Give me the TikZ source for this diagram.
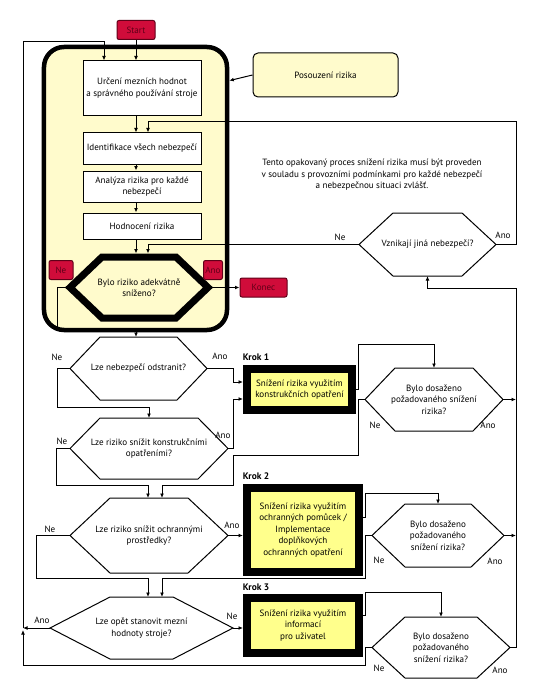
\documentclass[tikz,border=0pt]{standalone}
\usepackage{fontspec}
\setmainfont{PT Sans}
\usetikzlibrary{arrows.meta}

\definecolor{posfill}{RGB}{255,251,204}
\definecolor{krokfill}{RGB}{255,255,140}
\definecolor{stopred}{RGB}{208,12,58}
\definecolor{stoptext}{RGB}{96,0,24}

% sestiuhelnik kolem neviditelneho uzlu
\newcommand{\sestiuhel}[3][]{\draw[#1] (#2.west) -- ([xshift=#3bp]#2.north west) -- ([xshift=-#3bp]#2.north east) -- (#2.east) -- ([xshift=-#3bp]#2.south east) -- ([xshift=#3bp]#2.south west) -- cycle;}

\begin{document}
\begin{tikzpicture}[x=1bp,y=-1bp,line width=1bp,
    every node/.style={font=\fontsize{9.1}{11.5}\selectfont,align=center},
    sipka/.style={-{Latex[length=4.5bp,width=3.8bp]}},
    krabice/.style={draw,fill=white,minimum width=118bp,inner sep=1bp},
    cervena/.style={draw=stoptext,fill=stopred,rounded corners=2bp,text=stoptext,inner sep=0pt,minimum height=19bp},
    krok/.style={draw=black,line width=8bp,fill=krokfill,inner sep=0pt},
    otazka/.style={inner sep=0pt,outer sep=0pt},
    stitek/.style={inner sep=0pt},
    nadpis/.style={font=\fontsize{9.5}{10}\selectfont\bfseries}]
    \useasboundingbox (0,0) rectangle (539,700);
    % pomocne sloupce
    \coordinate (sloupA) at (148,0);
    \coordinate (sloupB) at (162,0);
    \coordinate (levy) at (23,42);
    \coordinate (pravy) at (516,122);
    % Posouzeni rizika
    \node[draw,line width=4.5bp,fill=posfill,rounded corners=20bp,minimum width=183bp,minimum height=283bp] (posouzeni) at (135.5,188.5) {};
    \node[draw,fill=posfill,rounded corners=5bp,minimum width=145bp,minimum height=44bp] (posbox) at (325.5,75) {Posouzení rizika};
    \draw[sipka] (posbox.west) -- (posouzeni.49);
    \node[cervena,minimum width=38bp] (start) at (136,30) {Start};
    \node[krabice,minimum height=54bp] (box1) at (142,88) {Určení mezních hodnot\\a správného používání stroje};
    \node[krabice,minimum height=31bp] (box2) at (142,148.5) {Identifikace všech nebezpečí};
    \node[krabice,minimum height=31bp] (box3) at (142,186.5) {Analýza rizika pro každé\\nebezpečí};
    \node[krabice,minimum height=26bp] (box4) at (142,226) {Hodnocení rizika};
    \node[otazka,minimum width=138bp,minimum height=61bp] (adeq) at (139,287.5) {Bylo riziko adekvátně\\sníženo?};
    \sestiuhel[line width=7bp,line join=miter]{adeq}{32}
    \node[cervena,minimum width=24bp] (neA) at (61,270) {Ne};
    \node[cervena,minimum width=19bp] (anoA) at (213,270) {Ano};
    \node[cervena,minimum width=47bp] (konec) at (263.5,287.5) {Konec};
    \draw[sipka] (start) -- (start |- box1.north);
    \draw[sipka] (box1.south -| start) -- (box2.north -| start);
    \draw[sipka] (box2.south -| start) -- (box3.north -| start);
    \draw[sipka] (box3.south -| start) -- (box4.north -| start);
    \draw[sipka,shorten >=3.5bp] (box4.south -| start) -- (adeq.north -| start);
    \draw[sipka] (adeq.east) -- (konec);
    % opakovani procesu
    \node (opakovani) at (372,175) {Tento opakovaný proces snížení rizika musí být proveden\\v souladu s provozními podmínkami pro každé nebezpečí\\a nebezpečnou situaci zvlášť.};
    \node[otazka,minimum width=137bp,minimum height=63bp] (vzn) at (427.5,244.5) {Vznikají jiná nebezpečí?};
    \sestiuhel{vzn}{34}
    \node[stitek] (vznNe) at (340,237) {Ne};
    \node[stitek] (vznAno) at (503,235) {Ano};
    \draw[sipka,shorten >=3.5bp] (vzn.west) -| (adeq.north -| sloupA);
    \draw[sipka] (vzn.east) -| (pravy) -| (box2.north -| sloupA);
    % otazky vlevo
    \node[otazka,minimum width=137bp,minimum height=63bp] (q1) at (138.5,368.5) {Lze nebezpečí odstranit?};
    \sestiuhel{q1}{30}
    \node[otazka,minimum width=158bp,minimum height=61bp] (q2) at (149,448.5) {Lze riziko snížit konstrukčními\\opatřeními?};
    \sestiuhel{q2}{30}
    \node[otazka,minimum width=158bp,minimum height=75bp] (q3) at (149,535.5) {Lze riziko snížit ochrannými\\prostředky?};
    \sestiuhel{q3}{40}
    \node[otazka,minimum width=183bp,minimum height=62bp] (q4) at (141.5,628) {Lze opět stanovit mezní\\hodnoty stroje?};
    \sestiuhel{q4}{60}
    \node[stitek] (q1Ne) at (57,357) {Ne};
    \node[stitek] (q1Ano) at (220,356) {Ano};
    \node[stitek] (q2Ne) at (62,441) {Ne};
    \node[stitek] (q2Ano) at (223,435) {Ano};
    \node[stitek] (q3Ne) at (50,529) {Ne};
    \node[stitek] (q3Ano) at (232,525) {Ano};
    \node[stitek] (q4Ano) at (42,620) {Ano};
    \node[stitek] (q4Ne) at (232,616) {Ne};
    \draw[sipka] (adeq.west) -- ++(-13,0) |- ([yshift=7bp]q1.north -| start) -- (q1.north -| start);
    % Krok 1
    \node[nadpis] (krok1) at (256,357) {Krok 1};
    \node[krok,minimum width=105bp,minimum height=41bp] (k1) at (299.5,389.5) {Snížení rizika využitím\\konstrukčních opatření};
    \node[otazka,minimum width=138bp,minimum height=63bp] (h1) at (434,399.5) {Bylo dosaženo\\požadovaného snížení\\rizika?};
    \sestiuhel{h1}{30}
    \node[stitek] (h1Ne) at (375,425) {Ne};
    \node[stitek] (h1Ano) at (488,425) {Ano};
    \draw[sipka] (q1.east) -- ++(26,0) |- ([yshift=7.5bp]k1.west);
    \draw[sipka] (q2.east) -- ++(5,0) |- ([yshift=-9.5bp]k1.west);
    \draw[sipka] (q1.west) -- ++(-13,0) |- ([yshift=11bp]q2.north) -- (q2.north);
    \draw[sipka] (q2.west) -- ++(-13,0) |- ([yshift=13bp]q3.north -| sloupA) -- (q3.north -| sloupA);
    \draw[sipka] (k1.east) -- ++(2,0) |- ([yshift=24bp]h1.north) -- (h1.north);
    \draw[sipka] (h1.west) -- ++(-7,0) |- (233,455) |- ([yshift=13bp]q3.north -| sloupB) -- (q3.north -| sloupB);
    \draw[sipka] (h1.east) -- (h1.east -| pravy);
    % Krok 2
    \node[nadpis] (krok2) at (256,476) {Krok 2};
    \node[krok,minimum width=112bp,minimum height=84bp] (k2) at (303,530) {Snížení rizika využitím\\ochranných pomůcek /\\Implementace\\doplňkových\\ochranných opatření};
    \node[otazka,minimum width=132bp,minimum height=63bp] (h2) at (438,535.5) {Bylo dosaženo\\požadovaného\\snížení rizika?};
    \sestiuhel{h2}{33}
    \node[stitek] (h2Ne) at (379,560) {Ne};
    \node[stitek] (h2Ano) at (495,561) {Ano};
    \draw[sipka] (q3.east) -- (q3.east -| k2.west);
    \draw[sipka] ([yshift=13bp]k2.east) -- ++(2,0) |- ([yshift=11bp]h2.north) -- (h2.north);
    \draw[sipka] (q3.west) -- ++(-33,0) |- ([yshift=19bp]q4.north -| sloupA) -- (q4.north -| sloupA);
    \draw[sipka] (h2.west) -- ++(-7,0) |- ([yshift=19bp]q4.north -| sloupB) -- (q4.north -| sloupB);
    \draw[sipka] (h2.east) -- (h2.east -| pravy);
    % Krok 3
    \node[nadpis] (krok3) at (256,587) {Krok 3};
    \node[krok,minimum width=112bp,minimum height=55bp] (k3) at (303,625.5) {Snížení rizika využitím\\informací\\pro uživatel};
    \node[otazka,minimum width=138bp,minimum height=61bp] (h3) at (441,647.5) {Bylo dosaženo\\požadovaného\\snížení rizika?};
    \sestiuhel{h3}{33}
    \node[stitek] (h3Ne) at (379,668) {Ne};
    \node[stitek] (h3Ano) at (500,670) {Ano};
    \draw[sipka] (q4.east) -- (q4.east -| k3.west);
    \draw[sipka] ([yshift=10bp]k3.east) -- ++(2,0) |- ([yshift=25bp]h3.north) -- (h3.north);
    \draw[sipka] (h3.east) -| ([yshift=-12bp]vzn.south -| pravy) -| (vzn.south);
    % navrat vlevo
    \draw[sipka] (q4.west) -- (q4.west -| levy);
    \draw[sipka] (h3.west) -- ++(-7,0) |- ([yshift=-6bp]q4.south -| levy) -- ([yshift=-2bp]q4.west -| levy);
    \draw[sipka] (q4.west -| levy) -- (levy) -| ([xshift=-38bp]box1.north);
\end{tikzpicture}
\end{document}
